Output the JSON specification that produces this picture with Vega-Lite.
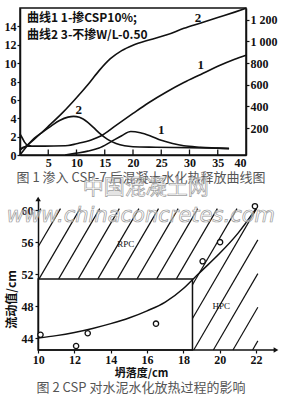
{
  "$schema": "https://vega.github.io/schema/vega-lite/v6.json",
  "padding": {"left": 3, "top": 4, "right": 0, "bottom": 0},
  "bounds": "flush",
  "spacing": 44,
  "config": {
    "view": {"stroke": null},
    "axis": {"labelFont": "Liberation Serif", "labelFontWeight": "bold", "labelFontSize": 12, "labelColor": "#111", "domainColor": "#111", "tickColor": "#111", "grid": false, "domainWidth": 1.5, "tickWidth": 1.2},
    "title": {"font": "Noto Sans CJK SC", "fontSize": 13, "fontWeight": "normal", "color": "#555"}
  },
  "vconcat": [
    {
      "width": 226,
      "height": 147,
      "view": {"stroke": "#111", "strokeWidth": 1.5},
      "title": {"text": "图 1 渗入 CSP-7 后混凝土水化热释放曲线图", "orient": "bottom", "offset": 4, "dx": 8},
      "resolve": {"scale": {"y": "independent"}},
      "layer": [
        {
          "encoding": {
            "x": {"field": "x", "type": "quantitative", "scale": {"domain": [0, 40], "nice": false, "zero": false}, "axis": {"values": [5, 10, 15, 20, 25, 30, 35, 40], "tickSize": 0, "labelPadding": 2, "title": null}},
            "y": {"field": "v", "type": "quantitative", "scale": {"domain": [0, 16], "nice": false, "zero": false}, "axis": {"values": [0, 2, 4, 6, 8, 10, 12, 14], "tickSize": 3, "labelPadding": 1, "title": null}}
          },
          "layer": [
            {
              "data": {"values": [
                {"s": "r1a", "x": 0, "v": 2.3}, {"s": "r1a", "x": 0.4, "v": 1.85}, {"s": "r1a", "x": 0.8, "v": 1.4}, {"s": "r1a", "x": 1.3, "v": 1.08}, {"s": "r1a", "x": 2, "v": 0.97},
                {"s": "r1", "x": 8, "v": 0}, {"s": "r1", "x": 10, "v": 0.2}, {"s": "r1", "x": 12, "v": 0.42}, {"s": "r1", "x": 14, "v": 0.75}, {"s": "r1", "x": 16, "v": 1.4}, {"s": "r1", "x": 18, "v": 2.1}, {"s": "r1", "x": 19.6, "v": 2.55}, {"s": "r1", "x": 21.3, "v": 2.42}, {"s": "r1", "x": 23, "v": 2.1}, {"s": "r1", "x": 25, "v": 1.6}, {"s": "r1", "x": 27, "v": 1.25}, {"s": "r1", "x": 29, "v": 1.0}, {"s": "r1", "x": 32, "v": 0.85}, {"s": "r1", "x": 35, "v": 0.75}, {"s": "r1", "x": 37, "v": 0.68},
                {"s": "r2", "x": 0, "v": 0}, {"s": "r2", "x": 1, "v": 0.8}, {"s": "r2", "x": 2.5, "v": 1.8}, {"s": "r2", "x": 4, "v": 2.5}, {"s": "r2", "x": 5.5, "v": 3.15}, {"s": "r2", "x": 7, "v": 3.75}, {"s": "r2", "x": 8.5, "v": 4.12}, {"s": "r2", "x": 9.5, "v": 4.2}, {"s": "r2", "x": 10.5, "v": 4.1}, {"s": "r2", "x": 12, "v": 3.55}, {"s": "r2", "x": 13, "v": 3.0}, {"s": "r2", "x": 14, "v": 2.4}, {"s": "r2", "x": 15.5, "v": 1.7}, {"s": "r2", "x": 17, "v": 1.25}, {"s": "r2", "x": 18.5, "v": 1.0}, {"s": "r2", "x": 20, "v": 0.9}, {"s": "r2", "x": 24, "v": 0.85}, {"s": "r2", "x": 30, "v": 0.8}, {"s": "r2", "x": 37, "v": 0.72}
              ]},
              "mark": {"type": "line", "interpolate": "monotone", "color": "#111", "strokeWidth": 1.6},
              "encoding": {"detail": {"field": "s"}}
            },
            {
              "data": {"values": [
                {"x": 5, "v": 0, "v2": 0.6}, {"x": 10, "v": 0, "v2": 0.6}, {"x": 15, "v": 0, "v2": 0.6}, {"x": 20, "v": 0, "v2": 0.6}, {"x": 25, "v": 0, "v2": 0.6}, {"x": 30, "v": 0, "v2": 0.6}, {"x": 35, "v": 0, "v2": 0.6}
              ]},
              "mark": {"type": "rule", "color": "#111", "strokeWidth": 1.3},
              "encoding": {"y2": {"field": "v2"}}
            },
            {
              "data": {"values": [
                {"x": 10.4, "v": 4.9, "t": "2"}, {"x": 25, "v": 2.75, "t": "1"}, {"x": 31.5, "v": 14.9, "t": "2"}, {"x": 32, "v": 9.8, "t": "1"}
              ]},
              "mark": {"type": "text", "font": "Liberation Serif", "fontWeight": "bold", "fontSize": 13, "color": "#111"},
              "encoding": {"text": {"field": "t"}}
            },
            {
              "data": {"values": [
                {"x": 1.24, "v": 14.9, "t": "曲线1 1-掺CSP10%;"}, {"x": 1.24, "v": 13.1, "t": "曲线2 3-不掺W/L-0.50"}
              ]},
              "mark": {"type": "text", "font": "Noto Sans CJK SC", "fontWeight": "bold", "fontSize": 12, "align": "left", "baseline": "middle", "color": "#111"},
              "encoding": {"text": {"field": "t"}}
            }
          ]
        },
        {
          "data": {"values": [
            {"s": "c1", "x": 0, "c": 0}, {"s": "c1", "x": 0.5, "c": 20}, {"s": "c1", "x": 1.2, "c": 32}, {"s": "c1", "x": 3, "c": 33}, {"s": "c1", "x": 6, "c": 34}, {"s": "c1", "x": 8.5, "c": 38}, {"s": "c1", "x": 10, "c": 55}, {"s": "c1", "x": 12.6, "c": 90}, {"s": "c1", "x": 14.3, "c": 126}, {"s": "c1", "x": 17, "c": 225}, {"s": "c1", "x": 20, "c": 335}, {"s": "c1", "x": 22.7, "c": 431}, {"s": "c1", "x": 26, "c": 535}, {"s": "c1", "x": 29, "c": 620}, {"s": "c1", "x": 32, "c": 695}, {"s": "c1", "x": 35, "c": 770}, {"s": "c1", "x": 38, "c": 835}, {"s": "c1", "x": 40, "c": 872},
            {"s": "c2", "x": 0, "c": 0}, {"s": "c2", "x": 1, "c": 30}, {"s": "c2", "x": 2.5, "c": 95}, {"s": "c2", "x": 5, "c": 215}, {"s": "c2", "x": 7.5, "c": 340}, {"s": "c2", "x": 10, "c": 480}, {"s": "c2", "x": 12, "c": 600}, {"s": "c2", "x": 14, "c": 730}, {"s": "c2", "x": 16, "c": 840}, {"s": "c2", "x": 18, "c": 915}, {"s": "c2", "x": 20, "c": 965}, {"s": "c2", "x": 23, "c": 1015}, {"s": "c2", "x": 26, "c": 1060}, {"s": "c2", "x": 29, "c": 1120}, {"s": "c2", "x": 32, "c": 1170}, {"s": "c2", "x": 35, "c": 1220}, {"s": "c2", "x": 38, "c": 1270}, {"s": "c2", "x": 40, "c": 1305}
          ]},
          "mark": {"type": "line", "interpolate": "monotone", "color": "#111", "strokeWidth": 1.6},
          "encoding": {
            "x": {"field": "x", "type": "quantitative", "scale": {"domain": [0, 40], "nice": false, "zero": false}, "axis": {"values": [5, 10, 15, 20, 25, 30, 35, 40], "tickSize": 0, "labelPadding": 2, "title": null}},
            "y": {"field": "c", "type": "quantitative", "scale": {"domain": [-49, 1308], "nice": false, "zero": false}, "axis": {"orient": "right", "values": [200, 400, 600, 800, 1000, 1200], "format": "d", "labelExpr": "datum.value == 1000 ? '1 000' : datum.value == 1200 ? '1 200' : datum.label", "tickSize": 3, "labelPadding": 1, "title": null}},
            "detail": {"field": "s"}
          }
        }
      ]
    },
    {
      "width": 256,
      "height": 151,
      "title": {"text": "图 2 CSP 对水泥水化放热过程的影响", "orient": "bottom", "offset": 4, "dx": -7},
      "encoding": {
        "x": {"field": "x", "type": "quantitative", "scale": {"domain": [9, 23.1], "nice": false, "zero": false}, "axis": {"values": [10, 12, 14, 16, 18, 20, 22], "domain": false, "tickSize": 3, "labelPadding": 1, "title": "坍落度/cm", "titleFont": "Noto Sans CJK SC", "titleFontWeight": "bold", "titleFontSize": 11, "titleColor": "#111", "titleX": 121, "titleY": 23, "titleBaseline": "middle"}},
        "y": {"field": "y", "type": "quantitative", "scale": {"domain": [42.5, 61.4], "nice": false, "zero": false}, "axis": {"values": [44, 48, 52, 56, 60], "offset": -18, "tickSize": 3, "labelPadding": 2, "title": "流动值/cm", "titleFont": "Noto Sans CJK SC", "titleFontWeight": "bold", "titleFontSize": 12, "titleColor": "#111", "titleX": -27, "titleY": 100, "titleAngle": -90, "titleBaseline": "middle", "titleAlign": "center"}}
      },
      "layer": [
        {
          "data": {"values": [
            {"x": 10, "y": 59.63, "x2": 10.147, "y2": 60.2},
            {"x": 10, "y": 55.42, "x2": 11.23, "y2": 60.2},
            {"x": 10.05, "y": 51.4, "x2": 12.31, "y2": 60.2},
            {"x": 11.13, "y": 51.4, "x2": 13.39, "y2": 60.2},
            {"x": 12.21, "y": 51.4, "x2": 14.47, "y2": 60.2},
            {"x": 13.29, "y": 51.4, "x2": 15.55, "y2": 60.2},
            {"x": 14.37, "y": 51.4, "x2": 16.63, "y2": 60.2},
            {"x": 15.45, "y": 51.4, "x2": 17.71, "y2": 60.2},
            {"x": 16.53, "y": 51.4, "x2": 18.79, "y2": 60.2},
            {"x": 17.61, "y": 51.4, "x2": 19.87, "y2": 60.2},
            {"x": 18.5, "y": 50.66, "x2": 20.95, "y2": 60.2},
            {"x": 18.5, "y": 46.45, "x2": 22.03, "y2": 60.2},
            {"x": 18.57, "y": 42.5, "x2": 22.1, "y2": 56.28},
            {"x": 19.65, "y": 42.5, "x2": 22.1, "y2": 52.06},
            {"x": 20.73, "y": 42.5, "x2": 22.1, "y2": 47.85},
            {"x": 21.81, "y": 42.5, "x2": 22.1, "y2": 43.64}
          ]},
          "mark": {"type": "rule", "color": "#111", "strokeWidth": 1.2},
          "encoding": {"x2": {"field": "x2"}, "y2": {"field": "y2"}}
        },
        {
          "data": {"values": [{"x": 10, "y": 42.5, "x2": 18.5, "y2": 51.4}]},
          "mark": {"type": "rect", "fill": "transparent", "stroke": "#111", "strokeWidth": 1.5},
          "encoding": {"x2": {"field": "x2"}, "y2": {"field": "y2"}}
        },
        {
          "data": {"values": [{"x": 10, "y": 42.5, "x2": 23.1, "y2": 42.5}]},
          "mark": {"type": "rule", "color": "#111", "strokeWidth": 1.5},
          "encoding": {"x2": {"field": "x2"}, "y2": {"field": "y2"}}
        },
        {
          "data": {"values": [{"x": 23.1, "y": 42.5}]},
          "mark": {"type": "point", "shape": "triangle-right", "filled": true, "size": 30, "color": "#111", "opacity": 1},
          "encoding": {}
        },
        {
          "data": {"values": [{"x": 10, "y": 61.4}]},
          "mark": {"type": "point", "shape": "triangle-up", "filled": true, "size": 30, "color": "#111", "opacity": 1},
          "encoding": {}
        },
        {
          "data": {"values": [
            {"x": 10, "y": 44.0}, {"x": 11, "y": 44.3}, {"x": 12, "y": 44.7}, {"x": 13, "y": 45.2}, {"x": 14, "y": 45.8}, {"x": 15, "y": 46.5}, {"x": 16, "y": 47.4}, {"x": 17, "y": 48.5}, {"x": 18, "y": 50.2}, {"x": 18.5, "y": 51.3}, {"x": 19, "y": 52.4}, {"x": 20, "y": 54.6}, {"x": 21, "y": 57.1}, {"x": 22, "y": 60.2}
          ]},
          "mark": {"type": "line", "interpolate": "monotone", "color": "#111", "strokeWidth": 1.5}
        },
        {
          "data": {"values": [
            {"x": 10.13, "y": 44.4}, {"x": 12.09, "y": 43.0}, {"x": 12.73, "y": 44.6}, {"x": 16.49, "y": 45.8}, {"x": 19.06, "y": 53.6}, {"x": 20.02, "y": 56.0}, {"x": 21.94, "y": 60.5}
          ]},
          "mark": {"type": "point", "shape": "circle", "filled": true, "fill": "white", "stroke": "#111", "strokeWidth": 1.3, "size": 28, "opacity": 1}
        },
        {
          "data": {"values": [{"x": 14.83, "y": 55.75, "t": "RPC"}, {"x": 20.09, "y": 48.0, "t": "HPC"}]},
          "mark": {"type": "text", "font": "Liberation Serif", "fontSize": 9, "color": "#111"},
          "encoding": {"text": {"field": "t"}}
        },
        {
          "data": {"values": [{"x": 15.66, "y": 59.25, "t": "www.chinaconcretes.com"}]},
          "mark": {"type": "text", "font": "DejaVu Sans", "fontSize": 21, "fontStyle": "italic", "fill": "white", "fillOpacity": 0.5, "stroke": "#9a9a9a", "strokeWidth": 0.7},
          "encoding": {"text": {"field": "t"}}
        },
        {
          "data": {"values": [{"x": 15.93, "y": 62.75, "t": "中国混凝土网"}]},
          "mark": {"type": "text", "font": "Noto Sans CJK SC", "fontSize": 21, "fill": "white", "fillOpacity": 0.3, "stroke": "#a0a0a0", "strokeWidth": 0.7},
          "encoding": {"text": {"field": "t"}}
        }
      ]
    }
  ]
}
